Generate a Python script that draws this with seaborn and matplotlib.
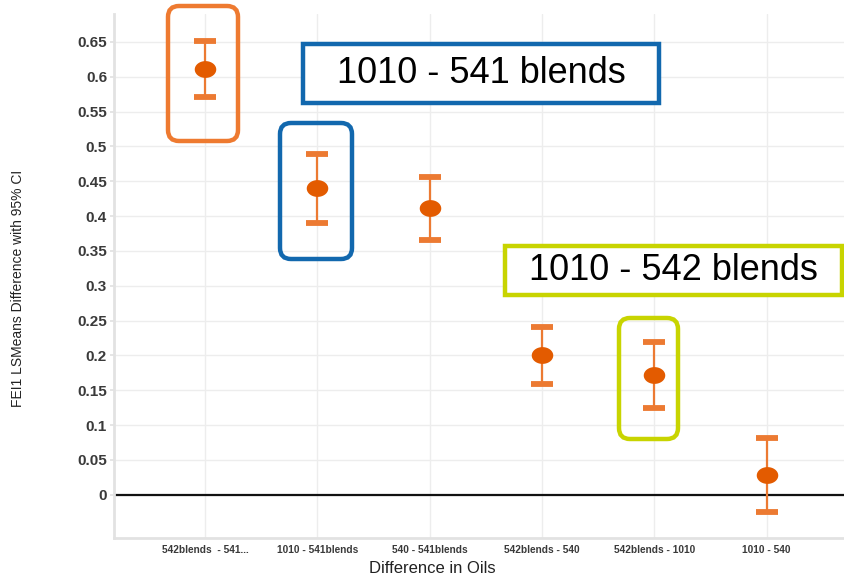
import numpy as np
import pandas as pd
import matplotlib
matplotlib.use("Agg")
import matplotlib.pyplot as plt
from matplotlib.patches import FancyBboxPatch, Rectangle
from matplotlib.path import Path
from matplotlib.markers import MarkerStyle
import seaborn as sns

# LSMeans differences of FEI1 between oils, with 95% confidence limits
comparisons = ["542blends  - 541...", "1010 - 541blends", "540 - 541blends",
               "542blends - 540", "542blends - 1010", "1010 - 540"]
lsmean_diff = [0.611, 0.440, 0.411, 0.201, 0.172, 0.028]
ci_lower = [0.571, 0.390, 0.366, 0.159, 0.124, -0.025]
ci_upper = [0.651, 0.489, 0.456, 0.2415, 0.2195, 0.082]
y_ticks = [0, 0.05, 0.1, 0.15, 0.2, 0.25, 0.3, 0.35, 0.4, 0.45, 0.5, 0.55, 0.6, 0.65]

df = pd.DataFrame({"comparison": comparisons, "diff": lsmean_diff,
                   "lo": ci_lower, "hi": ci_upper})

sns.set_theme(style="white")
plt.rcParams["font.family"] = ["Liberation Sans", "DejaVu Sans"]

W, H = 844, 576
fig = plt.figure(figsize=(W / 100, H / 100), dpi=100)
ax = fig.add_axes([114 / W, 1 - 538 / H, 730 / W, 524 / H])

ORANGE = "#E35B00"
BAR = "#EC7A32"

# elliptical point marker
t = np.linspace(0, 2 * np.pi, 60)
ell = Path(np.column_stack([np.cos(t), 0.78 * np.sin(t)]), closed=True)

yerr = np.vstack([df["diff"] - df["lo"], df["hi"] - df["diff"]])
ax.errorbar(df["comparison"], df["diff"], yerr=yerr, fmt="none",
            ecolor=BAR, elinewidth=1.6, capsize=8, capthick=4.2, zorder=3)
sns.scatterplot(data=df, x="comparison", y="diff", ax=ax,
                marker=MarkerStyle(ell), s=15.5 ** 2, color=ORANGE,
                edgecolor=ORANGE, linewidth=0, zorder=4)

ax.axhline(0, color="#111111", lw=1.6, zorder=2)

ax.set_xlim(-0.81, 5.69)
ax.set_ylim(-0.062, 0.69)
ax.set_yticks(y_ticks)
ax.set_yticklabels([f"{v:g}" for v in y_ticks])

ax.grid(True, color="#EDEDED", lw=1.0, zorder=0)
ax.set_axisbelow(True)
for side in ["top", "right"]:
    ax.spines[side].set_visible(False)
for side in ["left", "bottom"]:
    ax.spines[side].set_color("#E2E2E2")
    ax.spines[side].set_linewidth(2)

ax.tick_params(axis="y", length=3, color="#E2E2E2", pad=2, labelsize=11,
               labelcolor="#3A3A3A", left=True)
ax.tick_params(axis="x", length=0, pad=5, labelsize=7.3, labelcolor="#3A3A3A")
for lab in ax.get_yticklabels() + ax.get_xticklabels():
    lab.set_fontweight("bold")

ax.set_ylabel("FEI1 LSMeans Difference with 95% CI", fontsize=10, color="#222222")
ax.yaxis.set_label_coords(-0.122, 0.477)
ax.set_xlabel("Difference in Oils", fontsize=12, color="#222222")
ax.xaxis.set_label_coords(0.436, -0.043)


def rounded(x0, y0, x1, y1, color, r=11):
    p = FancyBboxPatch((x0, H - y1), x1 - x0, y1 - y0,
                       boxstyle=f"round,pad=0,rounding_size={r}",
                       transform=None, fill=False, ec=color, lw=3.2,
                       zorder=6, clip_on=False)
    fig.patches.append(p)


def label_box(x0, y0, x1, y1, color, text):
    p = Rectangle((x0, H - y1), x1 - x0, y1 - y0, transform=None,
                  fc="white", ec=color, lw=3.2, zorder=6, clip_on=False)
    fig.patches.append(p)
    fig.text((x0 + x1) / 2 / W, 1 - (y0 + y1) / 2 / H, text, ha="center",
             va="center", fontsize=26, color="black", zorder=7)


BLUE = "#1268AE"
LIME = "#C8D400"
rounded(168, 6, 238, 141, "#EE7A30")
rounded(280, 123, 352, 259, BLUE)
rounded(619, 318, 678, 439, LIME)
label_box(303, 44, 659, 103, BLUE, "1010 - 541 blends")
label_box(505, 246, 842, 295, LIME, "1010 - 542 blends")

fig.savefig("out.png", dpi=100)
